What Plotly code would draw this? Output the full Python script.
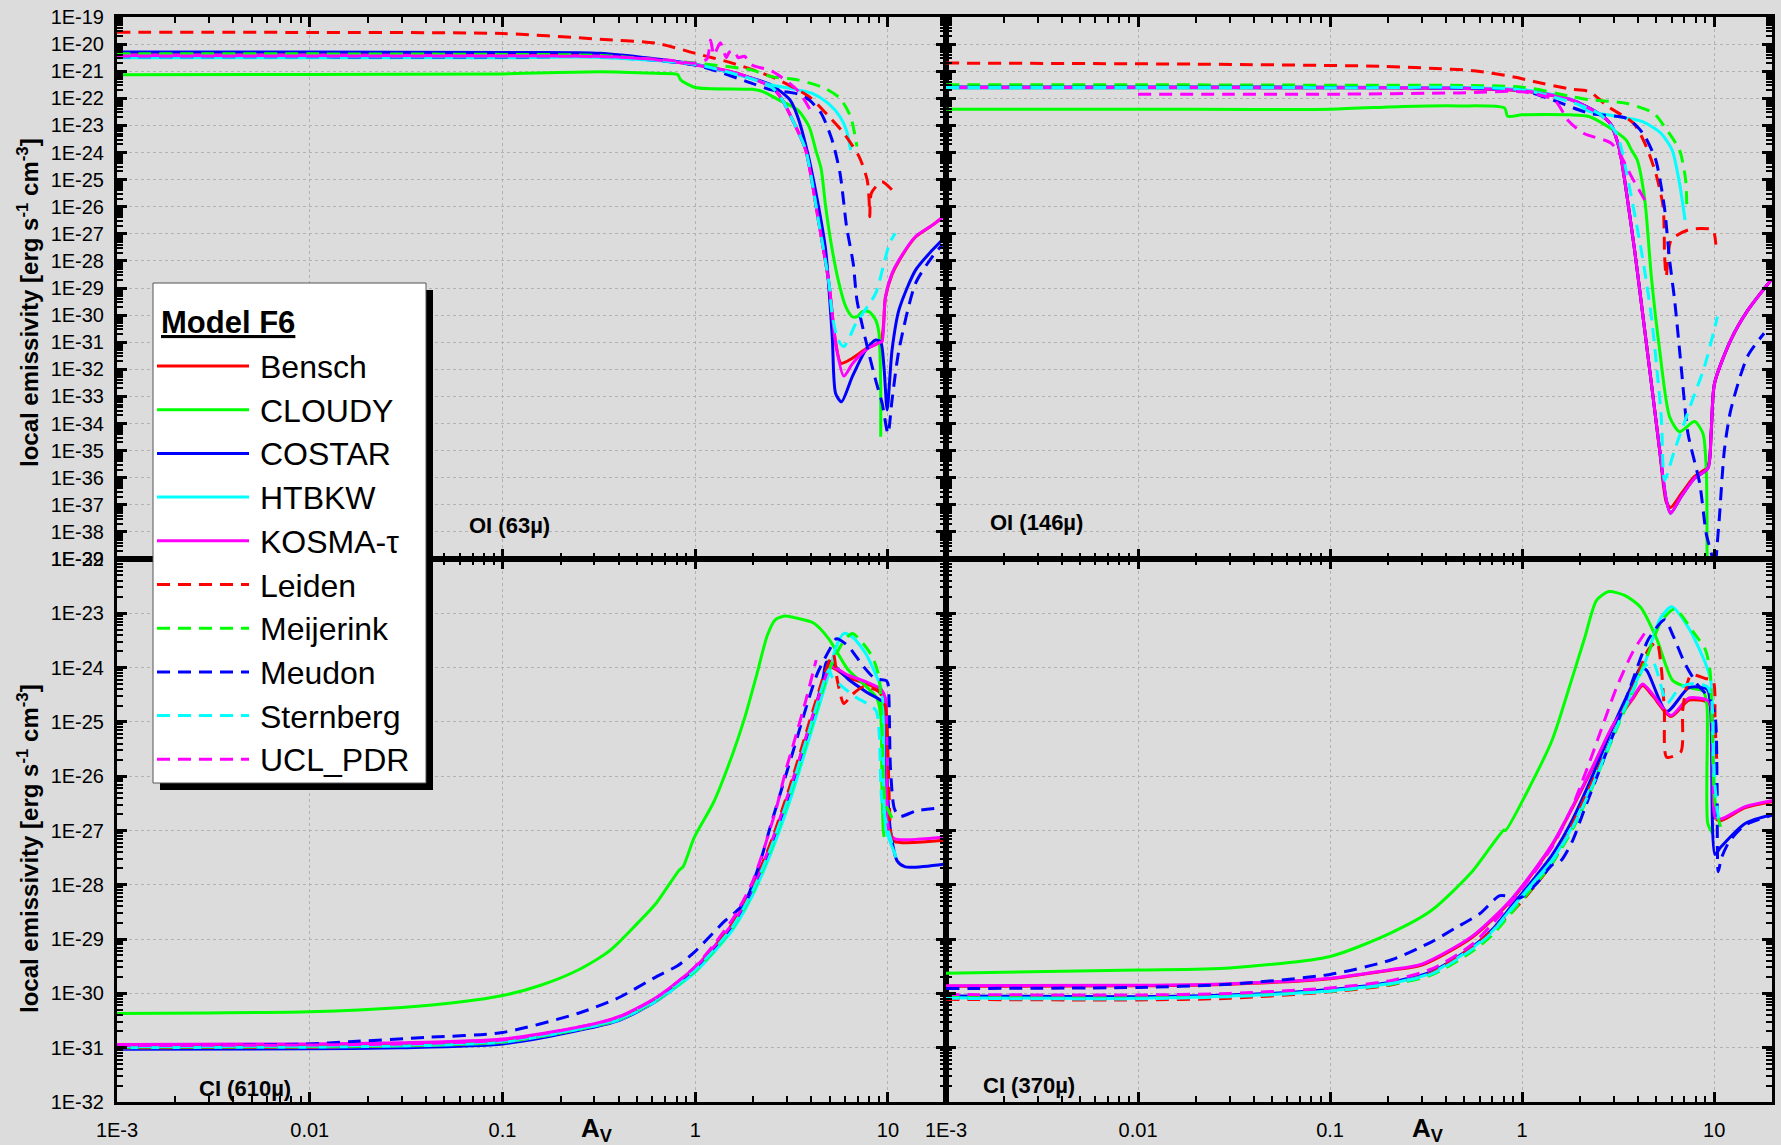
import plotly.graph_objects as go

# ---------------- data (Av, log10 emissivity) ----------------
MODELS = ["Bensch", "CLOUDY", "COSTAR", "HTBKW", "KOSMA-τ",
          "Leiden", "Meijerink", "Meudon", "Sternberg", "UCL_PDR"]

OI63 = {
    "Bensch": ([0.001, 0.01, 0.1, 0.32, 0.6, 1.0, 1.5, 2.0, 2.5, 2.8, 3.25, 3.74, 4.38, 4.94, 5.35, 5.71, 6.5, 7.66, 9.16, 9.7, 10.5, 11.4, 13.9, 17.0, 19.9],
               [-20.40, -20.40, -20.41, -20.44, -20.56, -20.76, -21.0, -21.28, -21.6, -22.0, -22.9, -23.9, -26.6, -28.83, -31.0, -31.78, -31.6, -31.25, -30.95, -29.35, -28.5, -28.0, -27.12, -26.68, -26.3]),
    "CLOUDY": ([0.001, 0.01, 0.1, 0.32, 0.63, 0.81, 0.84, 1.0, 1.97, 2.26, 2.71, 3.4, 3.9, 4.22, 4.5, 4.75, 5.14, 5.57, 6.04, 6.53, 6.93, 7.36, 7.98, 8.63, 8.98, 9.16, 9.17],
               [-21.13, -21.12, -21.1, -21.02, -21.08, -21.12, -21.32, -21.6, -21.67, -21.76, -22.06, -22.43, -23.05, -23.91, -24.6, -26.0, -27.6, -28.83, -29.69, -30.06, -30.06, -29.87, -29.87, -30.18, -30.67, -32.52, -34.49]),
    "COSTAR": ([0.001, 0.01, 0.1, 0.32, 1.0, 1.97, 2.48, 3.1, 3.4, 3.8, 4.3, 4.75, 5.14, 5.35, 5.74, 6.53, 7.66, 8.63, 9.16, 9.53, 9.9, 10.5, 11.4, 13.9, 17.0, 19.9],
               [-20.29, -20.29, -20.31, -20.34, -20.75, -21.26, -21.51, -22.06, -22.68, -23.91, -25.75, -27.6, -30.8, -32.89, -33.2, -32.27, -31.29, -30.92, -30.98, -31.9, -33.5, -31.29, -29.81, -28.34, -27.6, -27.1]),
    "HTBKW": ([0.001, 0.01, 0.1, 0.32, 1.0, 1.97, 2.48, 3.1, 4.05, 4.9, 5.64, 6.1, 6.4],
              [-20.5, -20.5, -20.5, -20.49, -20.75, -21.28, -21.51, -21.63, -21.82, -22.19, -22.68, -23.2, -23.91]),
    "KOSMA-τ": ([0.001, 0.01, 0.1, 0.32, 0.6, 1.0, 1.5, 2.0, 2.5, 2.8, 3.25, 3.74, 4.38, 4.94, 5.35, 5.9, 6.53, 7.66, 9.16, 9.33, 9.7, 10.5, 11.4, 13.9, 17.0, 19.9],
                [-20.42, -20.42, -20.43, -20.45, -20.57, -20.77, -21.0, -21.28, -21.6, -22.0, -22.9, -23.9, -26.6, -28.83, -31.04, -32.25, -31.8, -31.29, -31.0, -30.98, -29.32, -28.46, -27.97, -27.1, -26.68, -26.3]),
    "Leiden": ([0.001, 0.01, 0.1, 0.32, 0.63, 1.0, 1.57, 2.48, 3.9, 4.95, 5.9, 7.08, 7.8, 7.98, 8.05, 8.2, 9.3, 10.7],
               [-19.56, -19.57, -19.61, -19.82, -19.97, -20.34, -20.71, -21.2, -21.94, -22.68, -23.29, -24.15, -25.01, -25.75, -26.37, -25.5, -25.08, -25.45]),
    "Meijerink": ([0.001, 0.01, 0.1, 0.32, 1.0, 1.97, 2.48, 3.4, 4.7, 5.64, 6.4, 6.9],
                  [-20.36, -20.36, -20.38, -20.42, -20.7, -20.96, -21.2, -21.32, -21.63, -22.0, -22.68, -23.78]),
    "Meudon": ([0.001, 0.01, 0.1, 0.32, 1.0, 1.97, 2.48, 3.4, 3.9, 4.5, 5.13, 5.64, 6.1, 6.6, 6.9, 7.66, 8.63, 9.33, 10.0, 10.5, 11.4, 13.9, 17.0, 19.1],
               [-20.47, -20.47, -20.48, -20.47, -20.77, -21.45, -21.69, -21.84, -22.06, -22.55, -23.54, -24.77, -26.74, -28.09, -29.44, -30.92, -32.4, -33.26, -34.37, -33.13, -31.29, -28.83, -27.84, -27.41]),
    "Sternberg": ([0.001, 0.01, 0.1, 0.32, 1.0, 2.0, 2.5, 2.8, 3.25, 3.74, 4.38, 4.94, 5.14, 5.5, 5.9, 6.83, 8.63, 9.6, 10.2, 10.9],
                  [-20.45, -20.45, -20.45, -20.48, -20.75, -21.3, -21.6, -22.0, -22.9, -23.9, -26.6, -28.8, -30.0, -30.9, -31.16, -30.3, -29.2, -28.0, -27.35, -26.98]),
    "UCL_PDR": ([0.001, 0.01, 0.1, 0.32, 0.7, 1.0, 1.15, 1.2, 1.25, 1.35, 1.45, 1.5, 1.6, 1.67, 1.8, 1.97, 2.5, 3.4, 4.0],
                [-20.44, -20.44, -20.44, -20.46, -20.58, -20.7, -20.55, -19.85, -20.4, -19.95, -20.5, -20.3, -20.25, -20.5, -20.45, -20.77, -21.0, -21.71, -22.5]),
}

OI146 = {
    "Bensch": ([0.001, 0.01, 0.1, 0.5, 1.0, 1.79, 2.55, 2.91, 3.11, 3.22, 3.85, 4.26, 4.71, 5.2, 5.63, 5.93, 6.73, 7.9, 9.27, 9.64, 10.04, 12.2, 15.0, 19.8],
               [-21.61, -21.61, -21.62, -21.64, -21.72, -22.06, -22.6, -22.98, -23.53, -23.91, -27.6, -30.06, -32.52, -34.98, -36.9, -37.1, -36.6, -35.95, -35.6, -34.36, -32.52, -30.92, -29.81, -28.7]),
    "CLOUDY": ([0.001, 0.01, 0.1, 0.24, 0.47, 0.81, 0.84, 1.0, 1.78, 2.23, 2.79, 3.47, 3.71, 3.97, 4.35, 4.71, 5.2, 5.86, 6.6, 7.9, 8.73, 9.08, 9.18],
               [-22.40, -22.40, -22.40, -22.3, -22.28, -22.36, -22.66, -22.61, -22.61, -22.67, -23.04, -23.53, -23.91, -24.27, -25.74, -28.6, -31.29, -33.75, -34.3, -33.93, -34.36, -35.59, -39.2]),
    "COSTAR": ([0.001, 0.01, 0.1, 0.5, 1.0, 1.79, 2.55, 2.91, 3.11, 3.22, 3.85, 4.26, 4.71, 5.2, 5.63, 5.93, 6.73, 7.9, 9.27, 9.64, 10.04, 12.2, 15.0, 19.8],
               [-21.58, -21.58, -21.59, -21.62, -21.7, -22.04, -22.6, -22.98, -23.53, -23.91, -27.6, -30.06, -32.52, -34.98, -36.82, -37.31, -36.7, -36.02, -35.65, -34.36, -32.52, -30.92, -29.81, -28.7]),
    "HTBKW": ([0.001, 0.01, 0.1, 1.0, 1.79, 2.23, 2.79, 4.24, 5.28, 6.04, 6.6, 7.05],
              [-21.62, -21.62, -21.62, -21.68, -22.05, -22.48, -22.61, -22.86, -23.29, -23.91, -25.14, -26.49]),
    "KOSMA-τ": ([0.001, 0.01, 0.1, 0.5, 1.0, 1.79, 2.55, 2.91, 3.11, 3.22, 3.85, 4.26, 4.71, 5.2, 5.63, 5.93, 6.73, 7.9, 9.27, 9.64, 10.04, 12.2, 15.0, 19.8],
                [-21.6, -21.6, -21.61, -21.63, -21.71, -22.05, -22.6, -22.98, -23.53, -23.91, -27.6, -30.06, -32.52, -34.98, -36.82, -37.31, -36.7, -36.02, -35.65, -34.36, -32.52, -30.92, -29.81, -28.7]),
    "Leiden": ([0.001, 0.02, 0.19, 0.33, 0.56, 0.92, 1.15, 1.79, 2.23, 2.79, 3.8, 4.35, 4.96, 5.42, 5.52, 5.63, 5.97, 7.3, 8.55, 9.84, 10.2],
               [-20.70, -20.74, -20.82, -20.89, -20.98, -21.22, -21.38, -21.66, -21.75, -22.3, -22.92, -23.65, -24.76, -25.99, -27.84, -28.58, -27.23, -26.86, -26.8, -26.86, -27.4]),
    "Meijerink": ([0.001, 0.01, 0.1, 1.0, 1.79, 2.23, 3.47, 4.84, 5.52, 6.6, 7.1, 7.2],
                  [-21.5, -21.5, -21.52, -21.59, -21.93, -22.05, -22.18, -22.55, -23.05, -23.91, -25.0, -26.0]),
    "Meudon": ([0.001, 0.01, 0.1, 0.5, 1.0, 1.43, 2.23, 3.47, 3.97, 4.35, 4.96, 5.5, 5.86, 6.22, 6.73, 7.3, 8.4, 9.08, 9.8, 10.05, 10.24, 10.65, 11.3, 12.2, 14.9, 18.2],
               [-21.59, -21.59, -21.6, -21.62, -21.7, -22.05, -22.55, -22.73, -23.04, -23.4, -24.27, -26.0, -27.97, -29.44, -31.9, -34.36, -36.2, -38.05, -39.0, -40.5, -39.0, -37.44, -34.98, -33.5, -31.53, -30.67]),
    "Sternberg": ([0.001, 0.01, 0.1, 1.0, 2.0, 2.55, 3.1, 3.3, 4.17, 4.71, 5.3, 5.52, 6.22, 7.59, 8.9, 10.4],
                  [-21.6, -21.6, -21.61, -21.69, -22.25, -22.6, -23.3, -23.9, -27.6, -30.06, -33.75, -36.09, -34.98, -33.26, -31.9, -30.06]),
    "UCL_PDR": ([0.01, 0.03, 0.1, 0.47, 1.0, 1.47, 1.75, 2.1, 2.9, 3.28, 3.71, 4.35],
                [-21.85, -21.85, -21.85, -21.8, -21.76, -22.06, -22.85, -23.3, -23.65, -24.15, -24.89, -25.75]),
}

CI610 = {
    "Bensch": ([0.001, 0.01, 0.03, 0.1, 0.25, 0.4, 0.63, 0.99, 1.25, 1.57, 1.98, 2.48, 3.12, 3.93, 4.6, 5.05, 6.2, 7.8, 9.2, 9.7, 10.1, 10.8, 19.5],
               [-30.97, -30.96, -30.94, -30.87, -30.64, -30.46, -30.1, -29.56, -29.17, -28.72, -28.08, -27.25, -26.22, -25.07, -24.32, -24.0, -24.18, -24.3, -24.43, -24.6, -27.02, -27.2, -27.18]),
    "CLOUDY": ([0.001, 0.003, 0.01, 0.03, 0.06, 0.1, 0.158, 0.25, 0.361, 0.498, 0.627, 0.825, 0.864, 0.99, 1.246, 1.567, 1.8, 2.07, 2.37, 2.6, 2.91, 3.27, 4.11, 4.93, 6.21, 7.46, 8.75, 9.17, 9.3, 9.45, 9.55],
               [-30.37, -30.36, -30.34, -30.26, -30.16, -30.04, -29.85, -29.56, -29.21, -28.72, -28.34, -27.73, -27.67, -27.12, -26.48, -25.58, -24.94, -24.17, -23.40, -23.12, -23.05, -23.08, -23.18, -23.47, -24.04, -24.30, -24.56, -24.88, -26.16, -26.99, -27.12]),
    "COSTAR": ([0.001, 0.01, 0.03, 0.1, 0.25, 0.4, 0.63, 0.99, 1.25, 1.57, 1.98, 2.48, 3.12, 3.93, 4.6, 4.8, 5.2, 6.2, 7.8, 9.45, 9.8, 10.3, 11.2, 12.3, 19.5],
               [-31.03, -31.02, -31.0, -30.93, -30.68, -30.5, -30.14, -29.6, -29.22, -28.78, -28.15, -27.32, -26.3, -25.12, -24.2, -23.9, -23.95, -24.21, -24.46, -24.65, -25.84, -27.0, -27.57, -27.67, -27.62]),
    "HTBKW": ([0.001, 0.01, 0.03, 0.1, 0.25, 0.4, 0.63, 0.99, 1.25, 1.57, 1.98, 2.48, 3.12, 3.93, 4.94, 5.4, 5.92, 6.6, 7.66, 9.16, 9.4, 9.53, 9.8, 10.9],
              [-31.0, -30.99, -30.97, -30.9, -30.66, -30.49, -30.14, -29.62, -29.24, -28.82, -28.2, -27.4, -26.42, -25.27, -24.1, -23.6, -23.37, -23.45, -23.74, -24.35, -24.6, -26.5, -27.0, -27.44]),
    "KOSMA-τ": ([0.001, 0.01, 0.03, 0.1, 0.25, 0.4, 0.63, 0.99, 1.25, 1.57, 1.98, 2.48, 3.12, 3.93, 4.6, 5.05, 6.2, 7.8, 9.2, 9.7, 10.1, 10.8, 19.5],
                [-30.94, -30.93, -30.91, -30.84, -30.62, -30.43, -30.07, -29.53, -29.14, -28.7, -28.06, -27.22, -26.2, -25.05, -24.3, -23.98, -24.14, -24.27, -24.40, -24.56, -26.99, -27.15, -27.12]),
    "Leiden": ([0.001, 0.01, 0.03, 0.1, 0.25, 0.4, 0.63, 0.99, 1.25, 1.57, 1.98, 2.48, 3.12, 3.93, 4.7, 5.2, 5.46, 5.9, 6.5, 7.5, 9.0, 9.7, 10.0, 10.3, 10.6],
               [-31.0, -30.99, -30.96, -30.89, -30.66, -30.48, -30.12, -29.57, -29.17, -28.7, -28.04, -27.2, -26.15, -24.98, -24.1, -23.75, -24.23, -24.66, -24.5, -24.35, -24.45, -24.72, -25.6, -27.0, -27.3]),
    "Meijerink": ([0.001, 0.01, 0.03, 0.1, 0.25, 0.4, 0.63, 0.99, 1.25, 1.57, 1.98, 2.48, 3.12, 3.93, 4.94, 5.8, 6.53, 7.4, 8.3, 8.98, 9.33, 9.7, 10.9],
                  [-30.99, -30.98, -30.96, -30.89, -30.66, -30.48, -30.12, -29.6, -29.22, -28.78, -28.15, -27.33, -26.32, -25.18, -24.06, -23.55, -23.37, -23.55, -23.8, -24.17, -25.27, -26.5, -26.87]),
    "Meudon": ([0.001, 0.003, 0.01, 0.016, 0.04, 0.1, 0.25, 0.4, 0.63, 0.81, 0.99, 1.43, 1.57, 1.8, 2.15, 2.48, 2.85, 3.27, 3.75, 4.3, 4.94, 5.4, 6.2, 7.46, 8.55, 9.8, 10.0, 10.3, 10.8, 11.5, 14.0, 19.0],
               [-30.97, -30.96, -30.93, -30.89, -30.81, -30.72, -30.36, -30.08, -29.69, -29.49, -29.24, -28.66, -28.54, -28.34, -27.63, -26.87, -26.16, -25.46, -24.75, -24.11, -23.69, -23.47, -23.6, -23.98, -24.2, -24.24, -24.3, -25.84, -26.6, -26.74, -26.64, -26.58]),
    "Sternberg": ([0.001, 0.01, 0.03, 0.1, 0.25, 0.4, 0.63, 0.99, 1.25, 1.57, 1.98, 2.48, 3.12, 3.93, 4.94, 5.13, 5.79, 6.79, 8.63, 9.0, 9.33, 11.0],
                  [-30.98, -30.97, -30.95, -30.88, -30.65, -30.47, -30.11, -29.58, -29.2, -28.76, -28.12, -27.3, -26.28, -25.12, -24.04, -24.17, -24.35, -24.54, -24.78, -25.2, -26.5, -27.5]),
    "UCL_PDR": ([0.001, 0.01, 0.03, 0.1, 0.25, 0.4, 0.63, 0.99, 1.25, 1.57, 1.98, 2.62, 2.95, 3.3, 3.75, 4.24],
                [-30.96, -30.95, -30.93, -30.86, -30.62, -30.44, -30.08, -29.52, -29.1, -28.62, -27.95, -26.62, -25.89, -25.3, -24.6, -23.86]),
}

CI370 = {
    "Bensch": ([0.001, 0.01, 0.03, 0.1, 0.209, 0.3, 0.548, 0.886, 1.435, 2.32, 2.96, 3.76, 4.24, 4.78, 5.95, 7.39, 9.2, 9.6, 9.85, 10.1, 10.8, 14.5, 20.0],
               [-29.87, -29.86, -29.83, -29.73, -29.57, -29.48, -28.97, -28.27, -27.27, -25.86, -25.09, -24.58, -24.33, -24.52, -24.9, -24.6, -24.63, -24.72, -25.86, -26.76, -26.82, -26.58, -26.47]),
    "CLOUDY": ([0.001, 0.01, 0.03, 0.1, 0.209, 0.338, 0.548, 0.805, 0.82, 1.13, 1.435, 1.83, 2.11, 2.44, 2.82, 3.42, 4.14, 5.02, 6.09, 7.39, 8.76, 9.17, 9.26, 9.84],
               [-29.63, -29.57, -29.53, -29.32, -28.88, -28.47, -27.76, -26.99, -27.0, -26.10, -25.33, -24.17, -23.47, -22.76, -22.60, -22.67, -22.89, -23.47, -24.24, -24.37, -24.43, -24.69, -26.87, -27.06]),
    "COSTAR": ([0.001, 0.01, 0.03, 0.1, 0.209, 0.338, 0.548, 0.697, 0.886, 1.128, 1.435, 1.83, 2.32, 2.96, 3.76, 4.14, 4.45, 5.66, 7.39, 9.2, 9.6, 10.1, 10.8, 14.5, 20.0],
               [-30.05, -30.06, -30.03, -29.93, -29.79, -29.6, -29.15, -28.83, -28.38, -27.93, -27.45, -26.8, -26.0, -25.1, -24.3, -24.0, -24.05, -24.81, -24.37, -24.4, -24.81, -27.44, -27.31, -26.87, -26.71]),
    "HTBKW": ([0.001, 0.01, 0.03, 0.1, 0.209, 0.338, 0.548, 0.697, 0.886, 1.128, 1.435, 1.83, 2.32, 2.96, 3.76, 4.35, 4.78, 5.27, 6.0, 7.39, 9.0, 9.6, 9.84, 10.1, 10.3],
              [-30.08, -30.09, -30.05, -29.95, -29.81, -29.62, -29.17, -28.86, -28.42, -27.98, -27.54, -26.92, -26.15, -25.25, -24.4, -23.92, -23.47, -23.08, -22.88, -23.28, -23.92, -24.24, -25.2, -26.48, -26.8]),
    "KOSMA-τ": ([0.001, 0.01, 0.03, 0.1, 0.209, 0.3, 0.548, 0.886, 1.435, 2.32, 2.96, 3.76, 4.24, 4.78, 5.95, 7.39, 9.2, 9.6, 9.85, 10.1, 10.8, 14.5, 20.0],
                [-29.86, -29.85, -29.82, -29.72, -29.56, -29.46, -28.95, -28.25, -27.25, -25.84, -25.07, -24.56, -24.30, -24.49, -24.88, -24.56, -24.6, -24.69, -25.84, -26.74, -26.79, -26.56, -26.45]),
    "Leiden": ([0.001, 0.01, 0.03, 0.1, 0.209, 0.338, 0.548, 0.886, 1.435, 2.32, 2.96, 3.76, 4.56, 5.02, 5.3, 5.5, 5.66, 6.7, 6.87, 7.57, 9.0, 9.86, 10.1, 10.35],
               [-30.11, -30.12, -30.09, -29.97, -29.84, -29.62, -29.15, -28.5, -27.6, -26.1, -25.26, -24.37, -23.66, -23.53, -24.0, -24.8, -25.65, -25.55, -24.75, -24.14, -24.2, -24.24, -25.0, -25.84]),
    "Meijerink": ([0.001, 0.01, 0.03, 0.1, 0.209, 0.338, 0.548, 0.697, 0.886, 1.128, 1.435, 1.83, 2.32, 2.96, 3.76, 4.56, 5.3, 6.24, 7.76, 8.97, 9.5, 9.77, 10.1, 10.9],
                  [-30.07, -30.08, -30.05, -29.96, -29.83, -29.66, -29.23, -28.93, -28.5, -28.06, -27.6, -26.98, -26.2, -25.3, -24.45, -23.72, -23.15, -22.92, -23.34, -23.66, -24.04, -25.2, -26.48, -26.99]),
    "Meudon": ([0.001, 0.01, 0.03, 0.1, 0.209, 0.338, 0.452, 0.603, 0.767, 0.976, 1.18, 1.435, 1.58, 1.83, 2.11, 2.56, 3.1, 3.76, 4.56, 5.53, 6.09, 7.03, 8.13, 9.4, 10.1, 10.35, 10.5, 10.9, 12.0, 14.5, 20.0],
               [-29.91, -29.89, -29.83, -29.65, -29.38, -29.05, -28.79, -28.53, -28.2, -28.24, -27.99, -27.63, -27.57, -27.19, -26.61, -25.84, -25.07, -24.24, -23.47, -23.12, -23.40, -23.92, -24.30, -24.56, -24.88, -26.16, -27.76, -27.51, -27.2, -26.9, -26.72]),
    "Sternberg": ([0.001, 0.01, 0.03, 0.1, 0.209, 0.338, 0.548, 0.697, 0.886, 1.128, 1.435, 1.83, 2.32, 2.96, 3.76, 4.35, 4.8, 5.7, 6.5, 7.4, 9.2, 9.7, 10.0, 10.6],
                  [-30.09, -30.1, -30.06, -29.96, -29.82, -29.64, -29.19, -28.88, -28.44, -28.0, -27.56, -26.94, -26.18, -25.27, -24.42, -23.98, -23.9, -24.65, -24.4, -24.3, -24.35, -24.6, -26.0, -26.9]),
    "UCL_PDR": ([0.001, 0.01, 0.03, 0.1, 0.209, 0.338, 0.548, 0.886, 1.435, 1.83, 2.32, 3.1, 3.76, 4.45],
                [-30.02, -30.03, -30.0, -29.9, -29.76, -29.55, -29.1, -28.3, -27.3, -26.55, -25.6, -24.37, -23.72, -23.31]),
}

PANELS = [OI63, OI146, CI610, CI370]
PANEL_LABELS = ["OI (63µ)", "OI (146µ)", "CI (610µ)", "CI (370µ)"]
X_TICKS = [1e-3, 0.01, 0.1, 1, 10]
X_TICK_TEXT = ["1E-3", "0.01", "0.1", "1", "10"]
TOP_EXPONENTS = list(range(-39, -18))
BOTTOM_EXPONENTS = list(range(-32, -21))

# ---------------- styles ----------------
COLORS = ["#FF0000", "#00FF00", "#0000FF", "#00FFFF", "#FF00FF",
          "#FF0000", "#00FF00", "#0000FF", "#00FFFF", "#FF00FF"]
DASHED = [False] * 5 + [True] * 5
DASH = "13px,8px"
BG = "#DCDCDC"
FONT = "Liberation Sans, Arial, sans-serif"

W, H = 1781, 1145
def fx(p):
    return p / W
def fy(p):
    return 1 - p / H

XL, XR = (117, 946), (946, 1772)
YT, YB = (17, 559), (559, 1102)

fig = go.Figure()

axes = [("x", "y"), ("x2", "y2"), ("x3", "y3"), ("x4", "y4")]
for panel, (xa, ya) in zip(PANELS, axes):
    for i, m in enumerate(MODELS):
        if m not in panel:
            continue
        av, lg = panel[m]
        fig.add_trace(go.Scatter(
            x=av, y=[10 ** v for v in lg], mode="lines",
            line=dict(color=COLORS[i], width=3, dash=DASH if DASHED[i] else "solid",
                      shape="spline", smoothing=0.7),
            xaxis=xa, yaxis=ya, showlegend=False, hoverinfo="skip", name=m))

def minor_vals(e0, e1):
    return [k * 10.0 ** e for e in range(e0, e1) for k in range(2, 10)]

def xaxis(domain, labels, anchor):
    return dict(type="log", range=[-3, 1.30103], domain=domain, anchor=anchor,
                tickmode="array", tickvals=X_TICKS, ticktext=X_TICK_TEXT,
                showticklabels=labels, ticklabelstandoff=8,
                showline=True, linecolor="black", linewidth=3, mirror="ticks",
                ticks="inside", ticklen=10, tickwidth=2.5, tickcolor="black",
                showgrid=True, gridcolor="#B2B2B2", griddash="dot", gridwidth=1,
                zeroline=False, automargin=False,
                tickfont=dict(family=FONT, size=20, color="black"),
                minor=dict(tickmode="array", tickvals=[v for v in minor_vals(-3, 2) if v <= 20],
                           ticks="inside", ticklen=6, tickwidth=1.5, tickcolor="black", showgrid=False))

def yaxis(domain, exps, labels, anchor):
    return dict(type="log", range=[exps[0], exps[-1]], domain=domain, anchor=anchor,
                tickmode="array", tickvals=[10.0 ** e for e in exps],
                ticktext=["1E%d" % e for e in exps],
                showticklabels=labels, ticklabelstandoff=6,
                showline=True, linecolor="black", linewidth=3, mirror="ticks",
                ticks="inside", ticklen=10, tickwidth=2.5, tickcolor="black",
                showgrid=True, gridcolor="#B2B2B2", griddash="dot", gridwidth=1,
                zeroline=False, automargin=False,
                tickfont=dict(family=FONT, size=20, color="black"),
                minor=dict(tickmode="array", tickvals=minor_vals(exps[0], exps[-1]),
                           ticks="inside", ticklen=6, tickwidth=1.5, tickcolor="black", showgrid=False))

dxl = [fx(XL[0]), fx(XL[1])]
dxr = [fx(XR[0]), fx(XR[1])]
dyt = [fy(YT[1]), fy(YT[0])]
dyb = [fy(YB[1]), fy(YB[0])]

fig.update_layout(
    width=W, height=H, margin=dict(l=0, r=0, t=0, b=0),
    paper_bgcolor=BG, plot_bgcolor=BG, showlegend=False,
    font=dict(family=FONT, color="black"),
    xaxis=xaxis(dxl, False, "y"), yaxis=yaxis(dyt, TOP_EXPONENTS, True, "x"),
    xaxis2=xaxis(dxr, False, "y2"), yaxis2=yaxis(dyt, TOP_EXPONENTS, False, "x2"),
    xaxis3=xaxis(dxl, True, "y3"), yaxis3=yaxis(dyb, BOTTOM_EXPONENTS, True, "x3"),
    xaxis4=xaxis(dxr, True, "y4"), yaxis4=yaxis(dyb, BOTTOM_EXPONENTS, False, "x4"),
)

ann = []
# panel labels
for txt, (px, py) in zip(PANEL_LABELS, [(467, 525), (988, 522), (197, 1088), (981, 1085)]):
    ann.append(dict(text="<b>%s</b>" % txt, x=fx(px), y=fy(py), xref="paper", yref="paper",
                    xanchor="left", yanchor="middle", showarrow=False,
                    font=dict(family=FONT, size=22, color="black")))
# y titles
for cy in [303, 849]:
    ann.append(dict(text="<b>local emissivity [erg s<sup>-1</sup> cm<sup>-3</sup>]</b>",
                    x=fx(28), y=fy(cy), xref="paper", yref="paper", textangle=-90,
                    xanchor="center", yanchor="middle", showarrow=False,
                    font=dict(family=FONT, size=24, color="black")))
# x titles
for cx in [596, 1427]:
    ann.append(dict(text="<b>A<sub>V</sub></b>", x=fx(cx), y=fy(1129), xref="paper", yref="paper",
                    xanchor="center", yanchor="middle", showarrow=False,
                    font=dict(family=FONT, size=26, color="black")))

# legend (drawn manually)
shapes = []
LX0, LX1, LY0, LY1 = 153, 426, 283, 783
shapes.append(dict(type="rect", xref="paper", yref="paper",
                   x0=fx(LX0 + 7), x1=fx(LX1 + 7), y0=fy(LY1 + 7), y1=fy(LY0 + 7),
                   fillcolor="black", line=dict(width=0)))
shapes.append(dict(type="rect", xref="paper", yref="paper",
                   x0=fx(LX0), x1=fx(LX1), y0=fy(LY1), y1=fy(LY0),
                   fillcolor="white", line=dict(color="#555555", width=1)))
ann.append(dict(text="<b><u>Model F6</u></b>", x=fx(159), y=fy(323), xref="paper", yref="paper",
                xanchor="left", yanchor="middle", showarrow=False,
                font=dict(family=FONT, size=31, color="black")))
for i, m in enumerate(MODELS):
    ly = 366 + 43.7 * i
    shapes.append(dict(type="line", xref="paper", yref="paper",
                       x0=fx(157), x1=fx(249), y0=fy(ly), y1=fy(ly),
                       line=dict(color=COLORS[i], width=3, dash=DASH if DASHED[i] else "solid")))
    ann.append(dict(text=m, x=fx(258), y=fy(ly + 1), xref="paper", yref="paper",
                    xanchor="left", yanchor="middle", showarrow=False,
                    font=dict(family=FONT, size=32, color="black")))

fig.update_layout(annotations=ann, shapes=shapes)
fig.write_html("out.html", config={"displayModeBar": False},
               post_script="document.body.style.margin='0px';document.body.style.overflow='hidden';")
